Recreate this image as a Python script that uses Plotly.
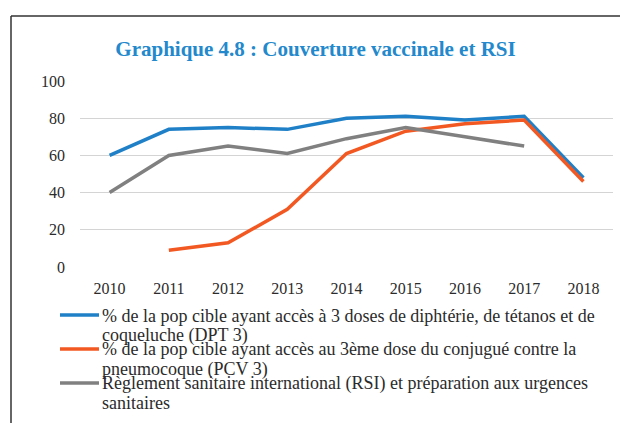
import plotly.graph_objects as go

years = ["2010", "2011", "2012", "2013", "2014", "2015", "2016", "2017", "2018"]
dpt3 = [60, 74, 75, 74, 80, 81, 79, 81, 48]
pcv3 = [None, 9, 13, 31, 61, 73, 77, 79, 46]
rsi = [40, 60, 65, 61, 69, 75, 70, 65, None]
y_ticks = [0, 20, 40, 60, 80, 100]

# legend labels, wrapped as in the reference
legend_lines = [
    ["% de la pop cible ayant accès à 3 doses de diphtérie, de tétanos et de", "coqueluche (DPT 3)"],
    ["% de la pop cible ayant accès au 3ème dose du conjugué contre la", "pneumocoque (PCV 3)"],
    ["Règlement sanitaire international (RSI) et préparation aux urgences", "sanitaires"],
]
title = "Graphique 4.8 : Couverture vaccinale et RSI"
colors = ["#1f80c8", "#f25822", "#808080"]

FONT = "Liberation Serif"

fig = go.Figure()
for vals, lines, color in zip([dpt3, pcv3, rsi], legend_lines, colors):
    fig.add_trace(go.Scatter(x=years, y=vals, name=" ".join(lines), mode="lines",
                             line=dict(color=color, width=3.5), connectgaps=False,
                             showlegend=False))

W, H = 620, 423
L, R, T, B = 80, 7, 81, 156
pw, ph = W - L - R, H - T - B

def px(x):
    return (x - L) / pw

def py(y):
    return (H - B - y) / ph

shapes = [
    dict(type="line", xref="paper", yref="paper", x0=px(11), x1=px(625), y0=py(16), y1=py(16),
         line=dict(color="#333333", width=1.5)),
    dict(type="line", xref="paper", yref="paper", x0=px(11), x1=px(11), y0=py(16), y1=py(430),
         line=dict(color="#333333", width=1.5)),
]
annotations = []
swatch_y = [315, 349, 383]
line_y = [[316, 335], [349, 369], [383, 403]]
for i, lines in enumerate(legend_lines):
    shapes.append(dict(type="line", xref="paper", yref="paper", x0=px(60), x1=px(99),
                       y0=py(swatch_y[i]), y1=py(swatch_y[i]),
                       line=dict(color=colors[i], width=3.5)))
    for j, txt in enumerate(lines):
        annotations.append(dict(text=txt, xref="paper", yref="paper", x=px(100), y=py(line_y[i][j]),
                                xanchor="left", yanchor="middle", showarrow=False,
                                font=dict(family=FONT, size=18, color="#2b2b2b")))

fig.update_layout(
    width=W, height=H,
    margin=dict(l=L, r=R, t=T, b=B, autoexpand=False),
    paper_bgcolor="white", plot_bgcolor="white",
    font=dict(family=FONT, size=16, color="#333333"),
    title=dict(text="<b>" + title + "</b>", x=315.5 / W, xanchor="center", xref="container",
               y=1 - 48.5 / H, yanchor="middle", yref="container",
               font=dict(family=FONT, size=21, color="#2389cc")),
    xaxis=dict(type="category", range=[-0.5, 8.5], showgrid=False, showline=False,
               zeroline=False, ticks="", ticklabelstandoff=10,
               tickfont=dict(family=FONT, size=16, color="#2b2b2b")),
    yaxis=dict(range=[0, 100], tickvals=y_ticks, showgrid=True,
               gridcolor="#d4d4d4", gridwidth=1, zeroline=False, showline=False, ticks="",
               ticklabelstandoff=14,
               tickfont=dict(family=FONT, size=16, color="#2b2b2b")),
    showlegend=False,
    shapes=shapes,
    annotations=annotations,
)

fig.write_html("out.html", config={"displayModeBar": False},
               post_script="document.body.style.margin='0';document.body.style.overflow='hidden';")
